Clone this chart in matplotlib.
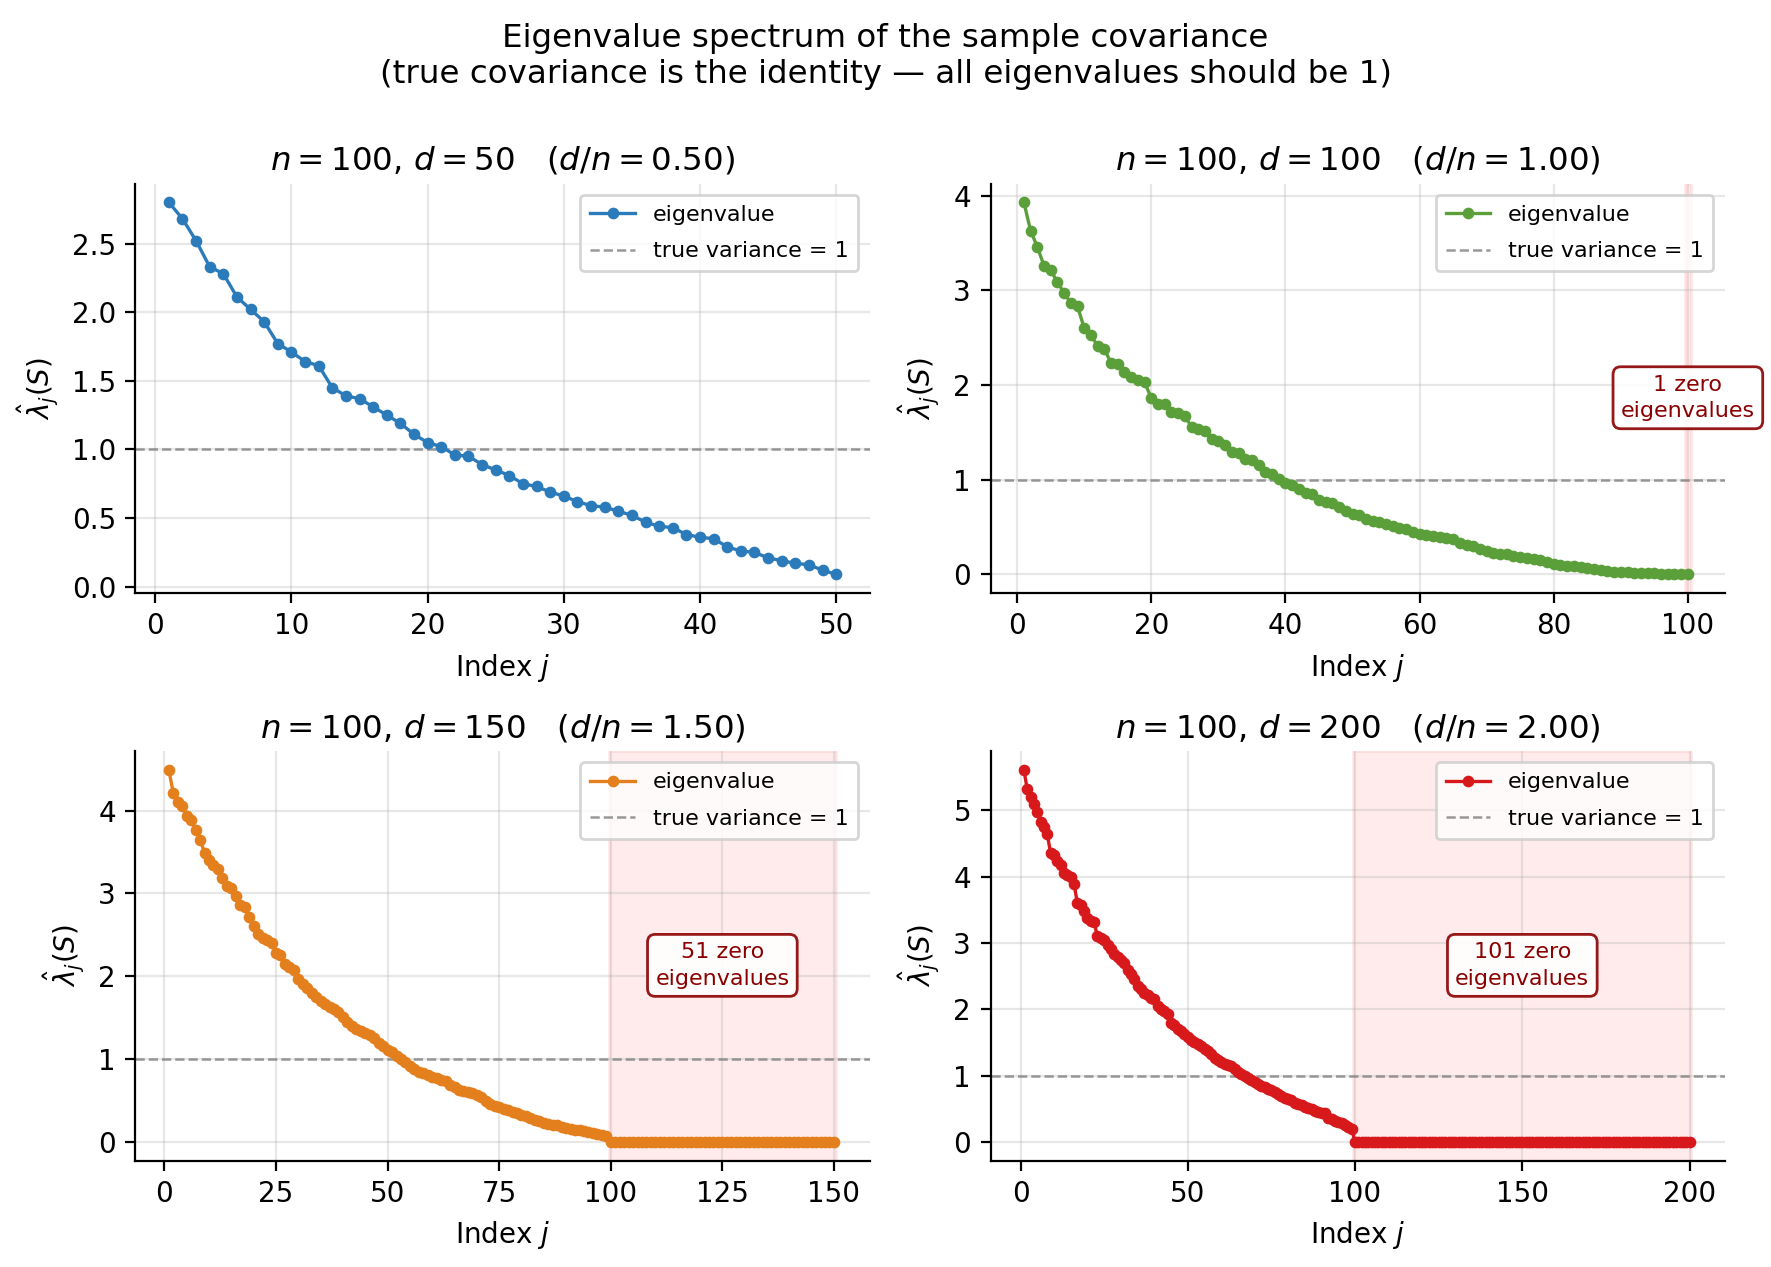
import numpy as np
import matplotlib
matplotlib.use("Agg")
import matplotlib.pyplot as plt

plt.rcParams['font.family'] = ['DejaVu Sans']

n_samples = 100
dims = [50, 100, 150, 200]
colors = ['#2b7bba', '#5b9f3b', '#e47f1e', '#d7191c']

eig_d50 = [2.80, 2.68, 2.52, 2.33, 2.28, 2.11, 2.02, 1.93, 1.77, 1.71,
           1.64, 1.61, 1.45, 1.39, 1.37, 1.31, 1.25, 1.19, 1.11, 1.05,
           1.02, 0.96, 0.95, 0.89, 0.85, 0.81, 0.75, 0.73, 0.69, 0.66,
           0.62, 0.59, 0.58, 0.55, 0.52, 0.47, 0.44, 0.43, 0.38, 0.36,
           0.35, 0.29, 0.26, 0.25, 0.21, 0.19, 0.17, 0.16, 0.12, 0.09]

eig_d100 = [3.93, 3.63, 3.46, 3.26, 3.21, 3.09, 2.97, 2.87, 2.83, 2.60,
            2.53, 2.41, 2.38, 2.23, 2.22, 2.14, 2.09, 2.05, 2.03, 1.86,
            1.80, 1.80, 1.72, 1.70, 1.67, 1.56, 1.54, 1.51, 1.43, 1.41,
            1.37, 1.29, 1.28, 1.22, 1.21, 1.16, 1.08, 1.06, 1.01, 0.97,
            0.94, 0.90, 0.86, 0.85, 0.79, 0.76, 0.75, 0.71, 0.67, 0.64,
            0.63, 0.59, 0.56, 0.55, 0.53, 0.51, 0.49, 0.48, 0.45, 0.43,
            0.42, 0.40, 0.39, 0.38, 0.37, 0.33, 0.31, 0.30, 0.27, 0.25,
            0.23, 0.22, 0.21, 0.19, 0.18, 0.17, 0.165, 0.15, 0.13, 0.105,
            0.10, 0.09, 0.085, 0.08, 0.065, 0.055, 0.047, 0.037, 0.030, 0.025,
            0.022, 0.018, 0.015, 0.012, 0.010, 0.008, 0.006, 0.004, 0.002, 0.0]

eig_d150 = [4.49, 4.21, 4.10, 4.06, 3.94, 3.89, 3.77, 3.65, 3.49, 3.40,
            3.34, 3.29, 3.19, 3.09, 3.06, 2.97, 2.86, 2.83, 2.71, 2.61,
            2.51, 2.46, 2.44, 2.40, 2.28, 2.26, 2.15, 2.11, 2.08, 1.97,
            1.91, 1.86, 1.80, 1.75, 1.70, 1.67, 1.63, 1.61, 1.57, 1.51,
            1.45, 1.40, 1.36, 1.34, 1.32, 1.29, 1.26, 1.20, 1.16, 1.11,
            1.08, 1.04, 1.00, 0.96, 0.92, 0.88, 0.84, 0.83, 0.81, 0.79,
            0.77, 0.75, 0.73, 0.69, 0.66, 0.63, 0.61, 0.60, 0.59, 0.57,
            0.54, 0.50, 0.46, 0.44, 0.42, 0.40, 0.38, 0.36, 0.35, 0.33,
            0.31, 0.29, 0.27, 0.25, 0.23, 0.22, 0.21, 0.20, 0.18, 0.17,
            0.16, 0.15, 0.14, 0.13, 0.12, 0.11, 0.10, 0.09, 0.07] + [0.0] * 51

eig_d200 = [5.61, 5.32, 5.20, 5.09, 4.97, 4.82, 4.75, 4.64, 4.35, 4.32,
            4.23, 4.18, 4.06, 4.03, 3.99, 3.89, 3.60, 3.57, 3.49, 3.38,
            3.33, 3.31, 3.10, 3.07, 3.04, 2.97, 2.91, 2.84, 2.79, 2.74,
            2.70, 2.60, 2.53, 2.46, 2.35, 2.30, 2.24, 2.21, 2.17, 2.15,
            2.05, 2.00, 1.97, 1.93, 1.80, 1.76, 1.71, 1.67, 1.63, 1.58,
            1.54, 1.51, 1.48, 1.44, 1.40, 1.37, 1.32, 1.27, 1.24, 1.20,
            1.18, 1.16, 1.14, 1.10, 1.06, 1.03, 1.00, 0.97, 0.94, 0.91,
            0.88, 0.85, 0.83, 0.80, 0.78, 0.75, 0.72, 0.69, 0.67, 0.65,
            0.63, 0.59, 0.57, 0.55, 0.53, 0.51, 0.49, 0.47, 0.45, 0.44,
            0.43, 0.36, 0.34, 0.32, 0.30, 0.28, 0.25, 0.23, 0.20] + [0.0] * 101

zero_counts = [0, 1, 51, 101]
all_eigs = [eig_d50, eig_d100, eig_d150, eig_d200]

fig = plt.figure(figsize=(8.855, 6.335), dpi=200)
positions = [
    [0.0765, 0.532, 0.4145, 0.323],
    [0.5593, 0.532, 0.4145, 0.323],
    [0.0765, 0.084, 0.4145, 0.323],
    [0.5593, 0.084, 0.4145, 0.323],
]

for k, (d, eig, col, nz, pos) in enumerate(zip(dims, all_eigs, colors, zero_counts, positions)):
    ax = fig.add_axes(pos)
    j = np.arange(1, d + 1)
    vals = np.array(eig)
    if nz > 0:
        ax.axvspan(d - nz + 0.5, d + 0.5, color='red', alpha=0.08, zorder=0)
    ax.plot(j, vals, '-o', color=col, markersize=3.2, linewidth=1.2, label='eigenvalue', zorder=3)
    ax.axhline(1.0, color='gray', linestyle='--', linewidth=0.9, alpha=0.8, label='true variance = 1', zorder=2)
    if nz > 0:
        ax.text(d - (nz - 1) / 2.0, 0.477, f"{nz} zero\neigenvalues",
                transform=ax.get_xaxis_transform(), ha='center', va='center',
                fontsize=8, color='darkred', linespacing=1.4,
                bbox=dict(boxstyle='round,pad=0.35', facecolor='white', edgecolor='darkred', alpha=0.9),
                zorder=5)
    ax.grid(True, alpha=0.3)
    ax.set_axisbelow(True)
    ax.spines['top'].set_visible(False)
    ax.spines['right'].set_visible(False)
    ax.set_xlabel('Index $j$', fontsize=10)
    ax.set_ylabel(r'$\hat{\lambda}_j(S)$', fontsize=10)
    ax.set_title(rf'$n = {n_samples}$, $d = {d}$   $(d/n = {d / n_samples:.2f})$', fontsize=11.7, pad=5)
    ax.tick_params(labelsize=10)
    ax.legend(loc='upper right', fontsize=8, labelspacing=0.75, borderpad=0.45)

fig.suptitle('Eigenvalue spectrum of the sample covariance\n'
             '(true covariance is the identity \u2014 all eigenvalues should be 1)',
             fontsize=11.7, y=0.982)

fig.savefig('out.png', dpi=200)
